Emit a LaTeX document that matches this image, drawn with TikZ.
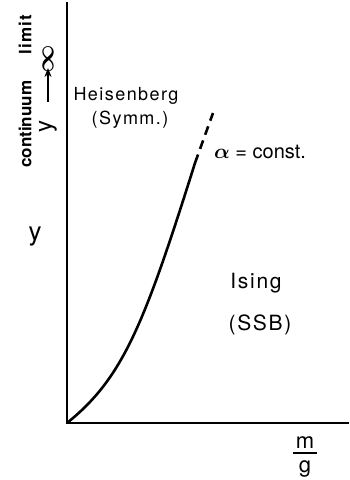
\documentclass[tikz,border=0pt]{standalone}
\usepackage{fontspec}
\setmainfont{TeX Gyre Heros}
\newfontfamily\wide[LetterSpace=8]{TeX Gyre Heros}
\usetikzlibrary{arrows.meta}
\tikzset{
  axis/.style={line width=1.6pt},
  curve/.style={line width=2.6pt},
  lbl/.style={inner sep=0pt, font=\fontsize{18}{21}\selectfont},
}
\begin{document}
\begin{tikzpicture}[x=1pt,y=-1pt]
\useasboundingbox (0,0) rectangle (349,480);
\coordinate (top) at (67,2);
\coordinate (o) at (67,423);
\coordinate (right) at (349,423);
\draw[axis] (top) -- (o) -- (right);
% curve
\coordinate (c1) at (195,163);
\coordinate (c2) at (213,113);
\draw[curve, line cap=round] (o) .. controls (123,378) and (144,325) .. (c1);
\draw[curve, dash pattern=on 9pt off 6pt] (c1) -- (c2);
% labels
\node[lbl, rotate=90, font=\bfseries\fontsize{17}{19}\selectfont] (cl) at (25,91) {continuum\hspace{26pt}{\wide limit}};
\node[lbl, rotate=90, font=\fontsize{24}{26}\selectfont] (yv) at (48,126) {y};
\node[lbl, rotate=90, font=\boldmath\fontsize{28}{30}\selectfont] (inf) at (48,59) {$\infty$};
\draw[line width=1.8pt, -{Stealth[length=9pt,width=7pt]}] (48,102) -- (48,68);
\node[lbl, font=\wide\fontsize{18}{21}\selectfont] (heis) at (126,96) {Heisenberg};
\node[lbl, font=\wide\fontsize{18}{21}\selectfont] (symm) at (130,120) {(Symm.)};
\node[lbl, font=\fontsize{20}{23}\selectfont] (alpha) at (260,152) {{\boldmath$\alpha$} = const.};
\node[lbl, font=\fontsize{26}{28}\selectfont] (y) at (35,237) {y};
\node[lbl, font=\wide\fontsize{21}{24}\selectfont] (ising) at (256,283) {Ising};
\node[lbl, font=\wide\fontsize{21}{24}\selectfont] (ssb) at (260,325) {(SSB)};
\node[lbl, font=\fontsize{22}{24}\selectfont, anchor=base] (m) at (305,448) {m};
\node[lbl, font=\fontsize{22}{24}\selectfont, anchor=base] (g) at (305,472) {g};
\coordinate (bl) at (293,453);
\coordinate (br) at (317,453);
\draw[line width=1.2pt] (bl) -- (br);
\end{tikzpicture}
\end{document}
